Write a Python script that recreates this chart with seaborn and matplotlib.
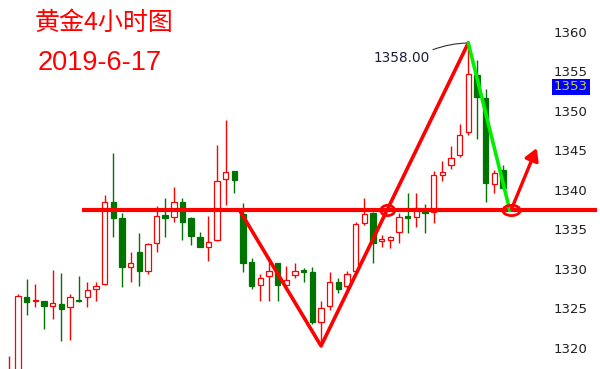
import numpy as np
import pandas as pd
import seaborn as sns
import matplotlib
matplotlib.use("Agg")
import matplotlib.pyplot as plt
from matplotlib.patches import Ellipse
from matplotlib.transforms import ScaledTranslation

# ---- 4-hour gold candles (open, high, low, close) ----
opens = [1313.0, 1315.0, 1325.8, 1325.3, 1325.3, 1324.7, 1324.9, 1324.6, 1325.5, 1325.9,
         1326.9, 1327.5, 1337.9, 1335.8, 1329.7, 1331.6, 1329.1, 1332.7, 1336.2, 1336.0,
         1337.9, 1335.9, 1333.5, 1332.2, 1333.1, 1340.8, 1341.8, 1336.4, 1330.3, 1327.3,
         1328.5, 1330.1, 1327.3, 1328.6, 1329.2, 1329.0, 1322.7, 1324.7, 1327.8, 1327.2,
         1329.1, 1335.2, 1336.5, 1332.9, 1333.1, 1334.1, 1336.1, 1336.0, 1337.0, 1336.6,
         1341.3, 1342.5, 1343.8, 1346.7, 1353.9, 1351.0, 1340.2, 1341.9]
highs = [1318.4, 1326.2, 1328.1, 1327.5, 1325.4, 1329.2, 1328.9, 1326.2, 1328.5, 1327.7,
         1327.7, 1338.8, 1344.1, 1336.5, 1331.6, 1333.9, 1332.7, 1337.4, 1338.4, 1339.8,
         1338.4, 1336.0, 1334.1, 1336.1, 1345.1, 1348.2, 1341.8, 1337.8, 1330.8, 1328.8,
         1330.4, 1330.2, 1329.8, 1330.1, 1329.5, 1329.6, 1325.3, 1329.0, 1328.3, 1329.1,
         1335.4, 1338.4, 1336.6, 1333.7, 1333.6, 1336.5, 1339.0, 1339.0, 1337.6, 1341.8,
         1343.0, 1344.9, 1347.8, 1358.0, 1355.8, 1352.2, 1341.9, 1342.5]
lows = [1312.0, 1314.0, 1323.6, 1324.6, 1321.8, 1323.0, 1320.3, 1320.4, 1325.2, 1324.6,
        1325.4, 1327.3, 1333.5, 1327.1, 1327.7, 1327.2, 1328.7, 1331.5, 1333.4, 1335.4,
        1333.1, 1332.4, 1332.2, 1330.4, 1332.9, 1337.5, 1339.0, 1329.0, 1326.8, 1325.4,
        1325.3, 1325.4, 1327.2, 1328.2, 1327.7, 1322.4, 1319.7, 1324.2, 1326.4, 1326.8,
        1328.8, 1334.9, 1330.2, 1332.2, 1332.1, 1332.7, 1334.0, 1334.7, 1334.0, 1335.2,
        1340.5, 1342.0, 1343.6, 1346.4, 1345.9, 1337.9, 1339.0, 1339.5]
closes = [1315.5, 1326.0, 1325.2, 1325.4, 1324.7, 1325.1, 1324.3, 1325.8, 1325.3, 1326.7,
          1327.2, 1337.9, 1335.9, 1329.7, 1330.1, 1329.1, 1332.5, 1336.1, 1335.9, 1337.9,
          1335.4, 1333.6, 1332.2, 1332.8, 1340.5, 1341.7, 1340.7, 1330.2, 1327.2, 1328.3,
          1329.1, 1327.3, 1328.0, 1329.1, 1329.0, 1322.7, 1324.4, 1327.8, 1326.8, 1328.7,
          1335.1, 1336.4, 1332.7, 1333.2, 1333.5, 1336.0, 1335.9, 1337.1, 1336.5, 1341.3,
          1341.7, 1343.5, 1346.4, 1354.1, 1351.1, 1340.3, 1341.5, 1339.7]

# ---- hand-drawn analysis marks (bar index, price) ----
support_level = 1336.8
support_span = [8.4, 67.9]
v_path_x = [26.6, 36.0, 53.0]
v_path_y = [1336.8, 1319.65, 1358.0]
drop_x = [53.0, 57.8]
drop_y = [1358.0, 1336.8]
arrow_from = (58.0, 1337.0)
arrow_to = (60.9, 1344.7)
circle_marks = [(43.7, 1.6), (58.0, 2.0)]
peak_label = "1358.00"
price_ticks = [1320, 1325, 1330, 1335, 1340, 1345, 1350, 1355, 1360]
last_price = 1353
title_text = "黄金4小时图"
date_text = "2019-6-17"

df = pd.DataFrame({"open": opens, "high": highs, "low": lows, "close": closes})
df["bar"] = np.arange(len(df))
df["up"] = df["close"] >= df["open"]

sns.set_theme(style="white")
plt.rcParams["font.family"] = ["DejaVu Sans"]

RED = "#ff0000"
GREEN = "#007400"

fig = plt.figure(figsize=(6.0, 3.69), dpi=100)
ax = fig.add_axes([0.0, 0.0, 545 / 600, 1.0])
ax.set_facecolor("white")
for s in ax.spines.values():
    s.set_visible(False)

# candles
colors = np.where(df["up"], RED, GREEN)
ax.vlines(df["bar"], df["low"], df["high"], colors=colors, linewidth=1.0, zorder=2)
body_lo = np.minimum(df["open"], df["close"])
body_h = np.maximum(np.abs(df["close"] - df["open"]), 0.15)
ax.bar(df["bar"], body_h, bottom=body_lo, width=0.62,
       facecolor=np.where(df["up"], "white", GREEN), edgecolor=colors,
       linewidth=0.9, zorder=3)

# support line
ax.plot(support_span, [support_level, support_level], color=RED, lw=3.0,
        solid_capstyle="butt", clip_on=False, zorder=5)

# V-shaped path and the pullback leg
sns.lineplot(x=v_path_x, y=v_path_y, sort=False, ax=ax, color=RED, lw=2.6,
             zorder=6, estimator=None)
sns.lineplot(x=drop_x, y=drop_y, sort=False, ax=ax, color="#00ee00", lw=2.6,
             zorder=6, estimator=None)

# rebound arrow
ax.annotate("", xy=arrow_to, xytext=arrow_from,
            arrowprops=dict(arrowstyle="-|>,head_length=0.6,head_width=0.35",
                            color=RED, lw=2.4, shrinkA=0, shrinkB=0), zorder=7)

# circled touches of support
for cx, w in circle_marks:
    ax.add_patch(Ellipse((cx, support_level), width=w, height=1.3, fill=False,
                         edgecolor=RED, lw=2.0, zorder=7))

# peak price label
ax.annotate(peak_label, xy=(53.0, 1358.0), xytext=(45.3, 1356.1),
            ha="center", va="center", fontsize=9.8, color="#1c1c3c",
            arrowprops=dict(arrowstyle="-", color="#303030", lw=0.8,
                            connectionstyle="arc3,rad=-0.1",
                            relpos=(0.97, 0.95), shrinkA=0, shrinkB=0))

ax.set_xlim(-1.074, 61.86)
ax.set_ylim(1316.73, 1363.44)
ax.set_xticks([])

# price scale on the right
ax.yaxis.tick_right()
ax.set_yticks(price_ticks)
ax.set_yticklabels([str(t) for t in price_ticks])
ax.tick_params(axis="y", length=0, pad=6.5, labelsize=9.5, labelcolor="#202020")
shift = ScaledTranslation(0, -4.5 / 100, fig.dpi_scale_trans)
for lab in ax.get_yticklabels():
    lab.set_transform(lab.get_transform() + shift)
ax.set_ylabel("")
ax.set_xlabel("")

# current price tag
ax.annotate(str(last_price), xy=(1.0, last_price), xycoords=("axes fraction", "data"),
            xytext=(6.5, -3.24), textcoords="offset points", ha="left", va="center",
            fontsize=9.5, color="#c8d040",
            bbox=dict(boxstyle="square,pad=0.12", facecolor="#0000ff", edgecolor="none"),
            annotation_clip=False)

# headings
fig.text(104 / 600, 1 - 23 / 369, title_text, ha="center", va="center",
         fontsize=18, color=RED, family=["Noto Sans CJK SC", "DejaVu Sans"])
fig.text(100 / 600, 1 - 63 / 369, date_text, ha="center", va="center",
         fontsize=19.5, color=RED, family=["Liberation Sans", "DejaVu Sans"])

fig.savefig("out.png", dpi=100, facecolor="white")
